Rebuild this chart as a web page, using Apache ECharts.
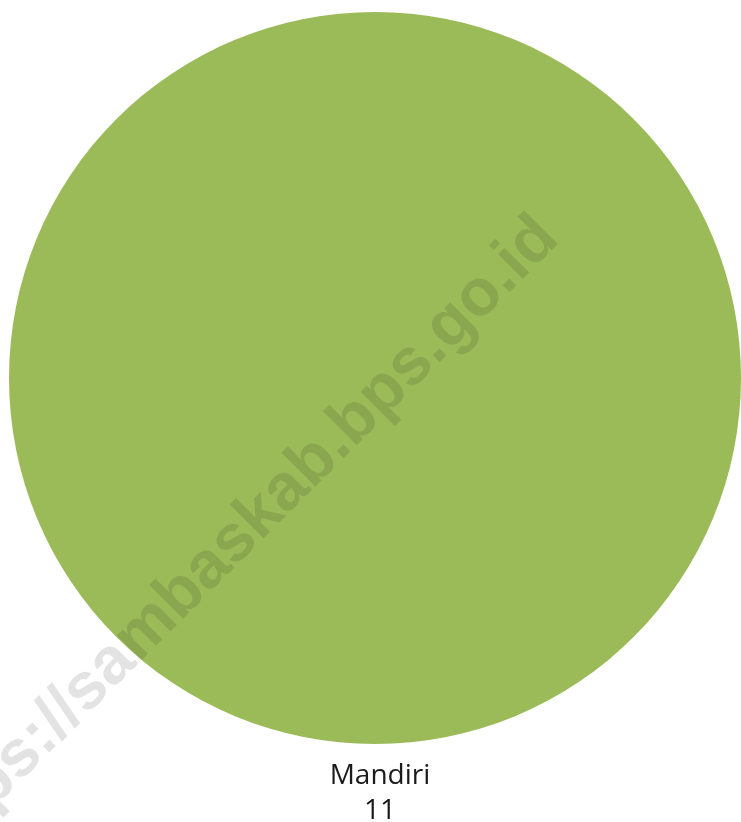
<!DOCTYPE html>
<html>
<head>
<meta charset="utf-8">
<script src="https://cdn.jsdelivr.net/npm/echarts@6/dist/echarts.min.js"></script>
<style>
html,body{margin:0;padding:0;background:#fff;}
#chart{width:741px;height:822px;}
</style>
</head>
<body>
<div id="chart"></div>
<script>
const categories = ['Mandiri'];
const values = [11];
const colors = ['#9BBB59'];
const watermark = 'https://sambaskab.bps.go.id';

const chart = echarts.init(document.getElementById('chart'), null, {renderer: 'canvas'});
chart.setOption({
  animation: false,
  backgroundColor: '#ffffff',
  series: [{
    type: 'pie',
    center: [375, 378],
    radius: [0, 366],
    startAngle: 90,
    data: categories.map((c, i) => ({name: c, value: values[i], itemStyle: {color: colors[i]}})),
    label: {
      show: true,
      position: 'outside',
      formatter: '{b}\n{c}',
      fontFamily: '"Open Sans", "Noto Sans", sans-serif',
      fontSize: 28,
      lineHeight: 35,
      color: '#1a1a1a'
    },
    labelLine: {show: false, length: 50, length2: 0},
    labelLayout: {align: 'center'},
    emphasis: {disabled: true}
  }],
  graphic: [{
    type: 'text',
    x: 233,
    y: 543,
    rotation: Math.PI / 4,
    z: 100,
    silent: true,
    style: {
      text: watermark,
      font: 'bold 66px "Liberation Sans", Arial, sans-serif',
      fill: 'rgba(0,0,0,0.11)',
      align: 'center',
      verticalAlign: 'middle'
    }
  }]
});
</script>
</body>
</html>
